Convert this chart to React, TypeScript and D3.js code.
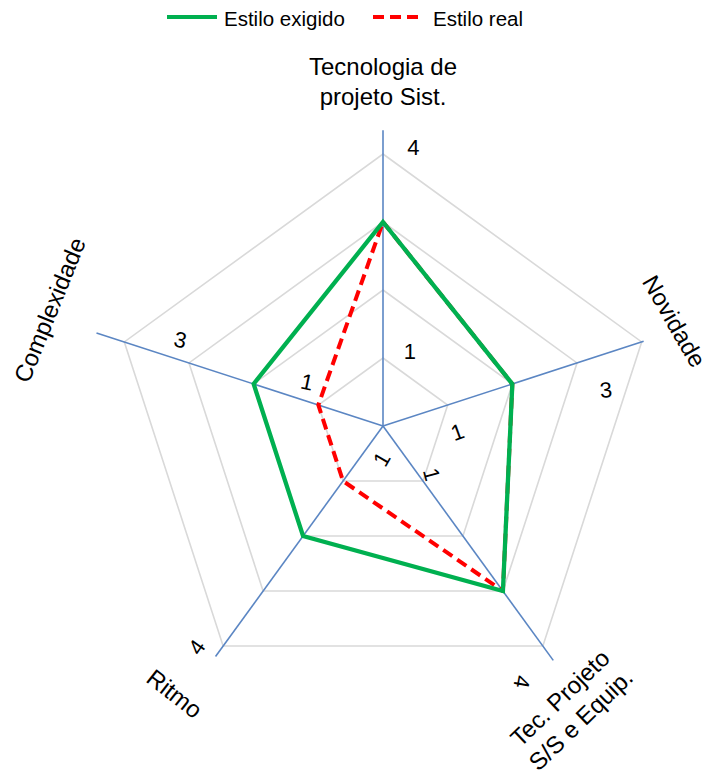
import React from 'react';
import * as d3 from 'd3';

// ---- data ----
const categories = ['Tecnologia de projeto Sist.', 'Novidade', 'Tec. Projeto S/S e Equip.', 'Ritmo', 'Complexidade'];
const categoryLines = [['Tecnologia de', 'projeto Sist.'], ['Novidade'], ['Tec. Projeto', 'S/S e Equip.'], ['Ritmo'], ['Complexidade']];
const estiloExigido = [3, 2, 3, 2, 2];
const estiloReal = [3, 2, 3, 1, 1];
const seriesNames = ['Estilo exigido', 'Estilo real'];
const gridLevels = [1, 2, 3, 4];
const tickTexts = ['4', '1', '3', '1', '1', '4', '1', '4', '3', '1'];

// ---- layout (positions in data units / degrees) ----
const axisReach = [4.35, 4.03, 4.26, 4.19, 4.43];
const tickLayout = [
  { r: 4.12, a: 6.2, rot: 0 },
  { r: 1.16, a: 20, rot: 0 },
  { r: 3.32, a: 80.8, rot: -5 },
  { r: 1.1, a: 94.6, rot: -20 },
  { r: 1.01, a: 135, rot: 75 },
  { r: 4.28, a: 151.5, rot: 100 },
  { r: 0.49, a: 182, rot: -60 },
  { r: 4.25, a: 220.1, rot: -55 },
  { r: 3.24, a: 293, rot: 12 },
  { r: 1.29, a: 300, rot: 12 },
];
const catLayout = [
  { r: 5.08, a: 0, rot: 0 },
  { r: 4.56, a: 70.2, rot: 60 },
  { r: 4.98, a: 146.5, rot: -44 },
  { r: 4.98, a: 217.9, rot: 38 },
  { r: 5.2, a: 289.2, rot: -68 },
];

const W = 714;
const H = 776;
const cx = 383;
const cy = 426;

const rScale = d3.scaleLinear().domain([0, 4]).range([0, 272]);
const n = categories.length;
const angleOf = (i: number) => (i / n) * 2 * Math.PI;
const pt = (r: number, aRad: number): [number, number] => [
  cx + rScale(r) * Math.sin(aRad),
  cy - rScale(r) * Math.cos(aRad),
];
const deg = (d: number) => (d * Math.PI) / 180;

const radial = d3
  .lineRadial<number>()
  .angle((_, i) => angleOf(i))
  .radius((d) => rScale(d))
  .curve(d3.curveLinearClosed);

const FONT = 'Liberation Sans, Arial, sans-serif';

export default function App() {
  return (
    <svg width={W} height={H} style={{ position: 'absolute', left: 0, top: 0, background: '#fff' }} fontFamily={FONT}>
      {/* grid */}
      <g transform={`translate(${cx},${cy})`}>
        {gridLevels.map((lv) => (
          <path key={lv} d={radial(categories.map(() => lv)) || ''} fill="none" stroke="#d9d9d9" strokeWidth={1.6} />
        ))}
      </g>
      {/* axes */}
      {categories.map((c, i) => {
        const [x2, y2] = pt(axisReach[i], angleOf(i));
        return <line key={c} x1={cx} y1={cy} x2={x2} y2={y2} stroke="#5b86c3" strokeWidth={1.6} />;
      })}
      {/* tick labels */}
      {tickTexts.map((t, i) => {
        const L = tickLayout[i];
        const [x, y] = pt(L.r, deg(L.a));
        return (
          <text key={i} x={x} y={y} transform={`rotate(${L.rot},${x},${y})`} textAnchor="middle" dominantBaseline="central" fontSize={22} fill="#000">
            {t}
          </text>
        );
      })}
      {/* series */}
      <g transform={`translate(${cx},${cy})`}>
        <path d={radial(estiloReal) || ''} fill="none" stroke="#ff0000" strokeWidth={4} strokeDasharray="11,6" strokeLinejoin="round" />
        <path d={radial(estiloExigido) || ''} fill="none" stroke="#00b050" strokeWidth={4.3} strokeLinejoin="miter" />
      </g>
      {/* category labels */}
      {categoryLines.map((lines, i) => {
        const L = catLayout[i];
        const [x, y] = pt(L.r, deg(L.a));
        const lh = 30;
        return (
          <text key={i} transform={`translate(${x},${y}) rotate(${L.rot})`} textAnchor="middle" dominantBaseline="central" fontSize={24} fill="#000">
            {lines.map((ln, j) => (
              <tspan key={j} x={0} y={(j - (lines.length - 1) / 2) * lh}>
                {ln}
              </tspan>
            ))}
          </text>
        );
      })}
      {/* legend */}
      <g>
        <line x1={167} x2={217} y1={17} y2={17} stroke="#00b050" strokeWidth={4} />
        <text x={224} y={18} dominantBaseline="central" fontSize={20.5} fill="#000">{seriesNames[0]}</text>
        <line x1={373} x2={418} y1={17} y2={17} stroke="#ff0000" strokeWidth={4} strokeDasharray="11,6" />
        <text x={433} y={18} dominantBaseline="central" fontSize={20.5} fill="#000">{seriesNames[1]}</text>
      </g>
    </svg>
  );
}
